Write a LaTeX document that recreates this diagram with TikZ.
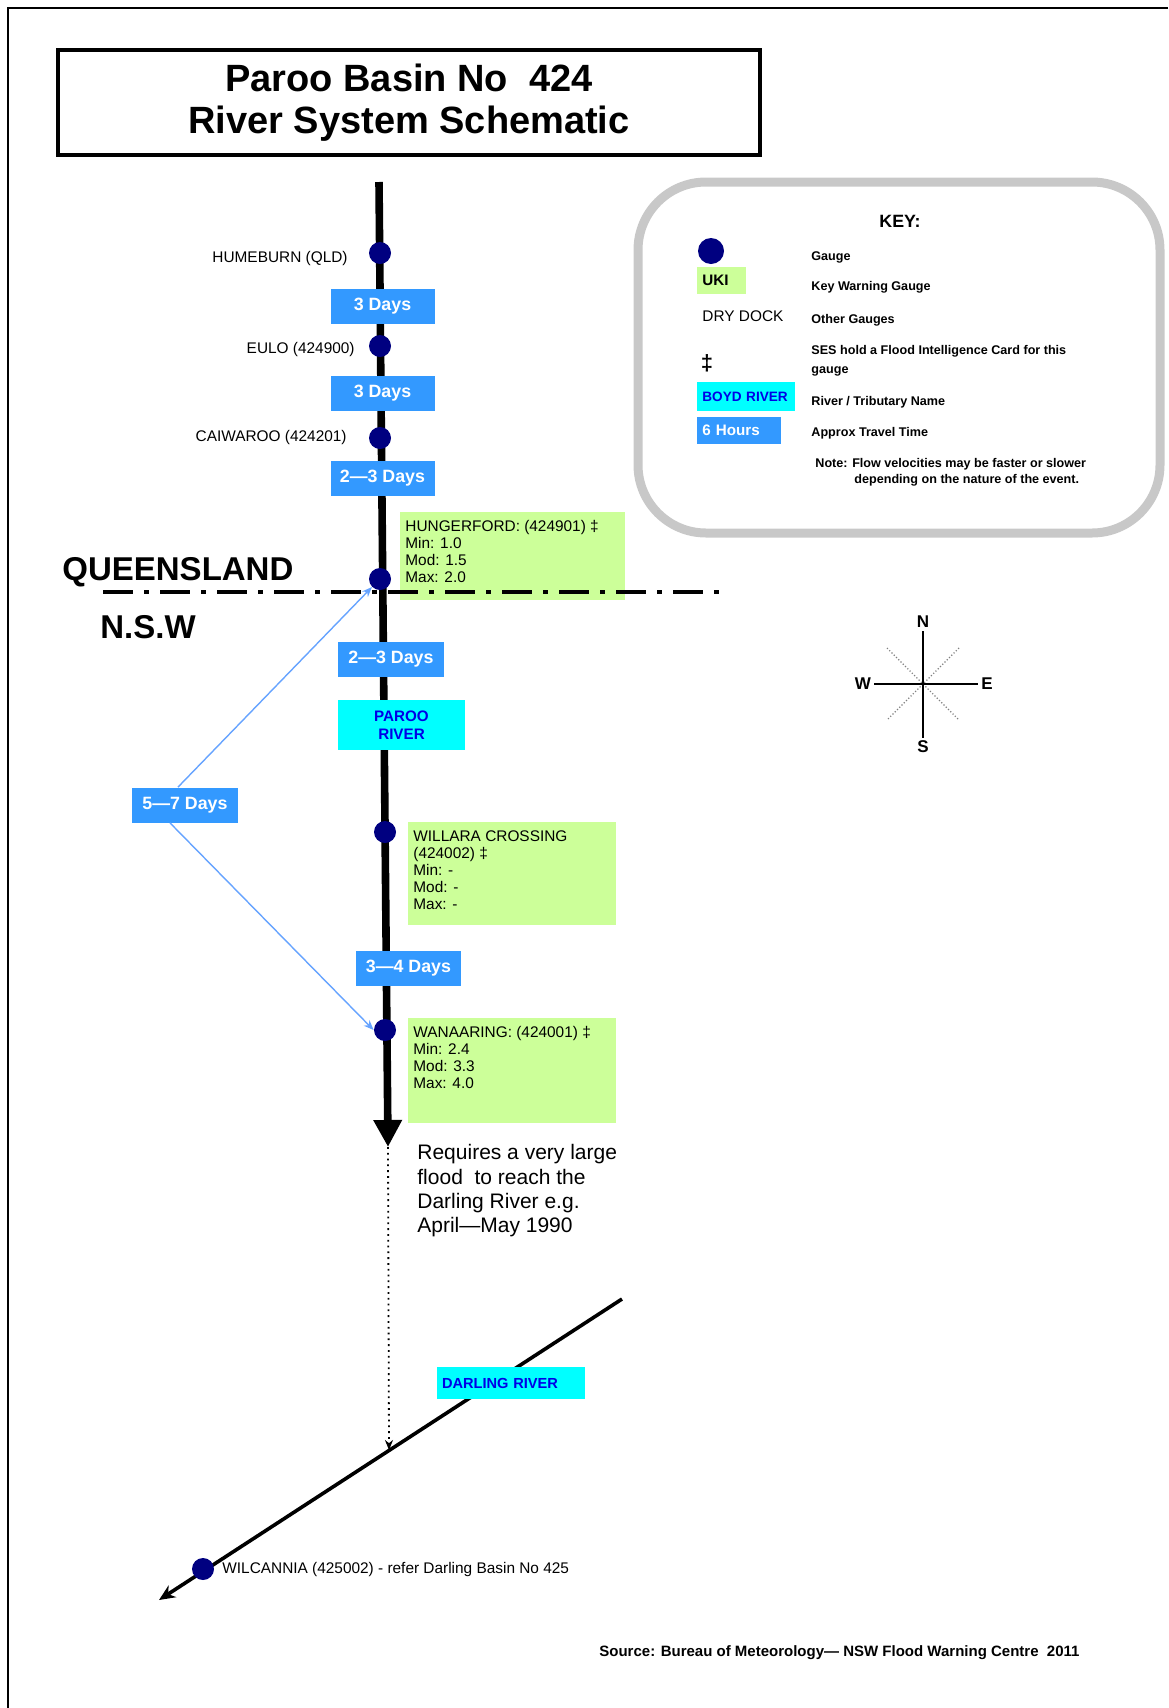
\documentclass[tikz,border=0pt]{standalone}
\usepackage{fontspec}
\setmainfont{Liberation Sans}
\usepackage{tikz}
\usetikzlibrary{arrows.meta,shapes,positioning}
\definecolor{gaugeblue}{RGB}{0,0,128}
\definecolor{travelblue}{RGB}{51,153,255}
\definecolor{rivercyan}{RGB}{0,255,255}
\definecolor{rivertext}{RGB}{0,0,230}
\definecolor{warngreen}{RGB}{204,255,153}
\definecolor{linkblue}{RGB}{102,163,255}
\definecolor{keygray}{RGB}{200,200,200}
\tikzstyle{every node}=[inner sep=0pt]

\begin{document}
\begin{tikzpicture}[
    x=0.5pt, y=-0.5pt,
    gauge/.style={
        circle,
        fill=gaugeblue,
        minimum size=11pt},
    site/.style={
        anchor=east,
        font=\fontsize{7.7}{8.5}\selectfont},
    traveltime/.style={
        fill=travelblue,
        text=white,
        font=\bfseries\fontsize{8.9}{10}\selectfont,
        minimum width=52pt,
        minimum height=17.5pt},
    rivername/.style={
        fill=rivercyan,
        text=rivertext,
        align=center,
        font=\bfseries\fontsize{7.6}{9.3}\selectfont},
    warnbox/.style={
        fill=warngreen,
        anchor=north west},
    warntext/.style={
        anchor=north west,
        inner xsep=2.5pt,
        inner ysep=4pt,
        align=left,
        font=\fontsize{7.7}{8.5}\selectfont},
    keytext/.style={
        anchor=west,
        align=left,
        font=\bfseries\fontsize{6.3}{9.5}\selectfont},
    state/.style={
        anchor=west,
        font=\bfseries\fontsize{16.5}{18}\selectfont},
    compassletter/.style={
        inner sep=1.5pt,
        font=\bfseries\fontsize{8.5}{9}\selectfont},
    link/.style={
        linkblue,
        line width=0.7pt,
        -{Stealth[length=5pt,width=4pt]}},
  ]
  \useasboundingbox (0,0) rectangle (1168,1708);
  % Frame and title
  \draw[line width=0.8pt] (1168,8) -- (8,8) -- (8,1708);
  \node[draw, line width=2pt, minimum width=351pt, minimum height=52.5pt,
        align=center, font=\bfseries\fontsize{19}{21}\selectfont]
        (title) at (409,102.5) {Paroo Basin No\ \ 424\\River System Schematic};

  % Key
  \node[draw=keygray, line width=4.5pt, rounded corners=34pt,
        minimum width=261pt, minimum height=175.5pt] (keybox) at (899,357.5) {};
  \node[font=\bfseries\fontsize{8.9}{10}\selectfont] (keytitle) at (900,221) {KEY:};
  \node[gauge, minimum size=13pt] (keygauge) at (711,251) {};
  \node[fill=warngreen, anchor=west, text width=19.5pt, inner xsep=2.5pt,
        minimum height=13.5pt, font=\bfseries\fontsize{7.6}{9}\selectfont]
        (keyuki) at (697,280.5) {UKI};
  \node[anchor=west, font=\fontsize{7.7}{9}\selectfont] (keydry) at (702,316) {DRY DOCK};
  \node[font=\bfseries\fontsize{11}{12}\selectfont] (keycard) at (707,363) {‡};
  \node[rivername, anchor=west, align=left, text width=44pt, inner xsep=2.5pt,
        minimum height=14.5pt, font=\bfseries\fontsize{6.8}{8}\selectfont]
        (keyriver) at (697,396.5) {BOYD RIVER};
  \node[traveltime, anchor=west, align=left, text width=37pt, inner xsep=2.5pt,
        minimum width=0pt, minimum height=13.5pt, font=\bfseries\fontsize{7.6}{9}\selectfont]
        (keytime) at (697,430.5) {6 Hours};
  \node[keytext] (keydesc1) at (811,257) {Gauge};
  \node[keytext] (keydesc2) at (811,287) {Key Warning Gauge};
  \node[keytext] (keydesc3) at (811,320) {Other Gauges};
  \node[keytext] (keydesc4) at (811,360.5) {SES hold a Flood Intelligence Card for this\\gauge};
  \node[keytext] (keydesc5) at (811,402) {River / Tributary Name};
  \node[keytext] (keydesc6) at (811,433) {Approx Travel Time};
  \node[keytext, font=\bfseries\fontsize{6.3}{8}\selectfont] (keynote) at (815,472)
        {Note: Flow velocities may be faster or slower\\\hspace*{19.5pt}depending on the nature of the event.};

  % Compass
  \coordinate (compass) at (923,684);
  \node[compassletter] (compassN) at (923,622) {N};
  \node[compassletter] (compassS) at (923,747) {S};
  \node[compassletter] (compassW) at (863,684) {W};
  \node[compassletter] (compassE) at (987,684) {E};
  \draw[gray, densely dotted, line width=0.6pt]
        ([shift={(-36,-36)}]compass) -- ([shift={(36,36)}]compass);
  \draw[gray, densely dotted, line width=0.6pt]
        ([shift={(36,-36)}]compass) -- ([shift={(-36,36)}]compass);
  \draw[line width=1pt] (compassN) -- (compassS);
  \draw[line width=1pt] (compassW) -- (compassE);

  % Paroo River and Darling River
  \coordinate (parootop) at (379,182);
  \coordinate (parooend) at (388,1147);
  \coordinate (darlingjoin) at (389,1450);
  \coordinate (darlingtop) at (622,1299);
  \coordinate (darlingend) at (159,1600);
  \draw[line width=3.8pt, -{Triangle[length=13.5pt,width=13.5pt]}] (parootop) -- (parooend);
  \draw[dotted, line width=0.9pt, -{Stealth[length=5pt,width=4pt]}] (parooend) -- (darlingjoin);
  \draw[line width=1.8pt, -{Stealth[length=8pt,width=7pt]}] (darlingtop) -- (darlingend);
  \node[rivername, align=left, text width=69pt, inner xsep=2.5pt, minimum height=16pt,
        font=\bfseries\fontsize{7.3}{9}\selectfont] (darling) at (511,1383) {DARLING RIVER};
  \node[anchor=north west, align=left, font=\fontsize{10.5}{12.2}\selectfont]
        (floodnote) at (417,1144) {Requires a very large\\flood\ \ to reach the\\Darling River e.g.\\April---May 1990};

  % Key warning gauges
  \node[warnbox, minimum width=112.5pt, minimum height=44pt] (hungerfordbox) at (400,512) {};
  \node[warntext] (hungerfordtext) at (hungerfordbox.north west)
        {HUNGERFORD: (424901) ‡\\Min: 1.0\\Mod: 1.5\\Max: 2.0};
  \node[warnbox, minimum width=104pt, minimum height=51.5pt] (willarabox) at (408,822) {};
  \node[warntext] (willaratext) at (willarabox.north west)
        {WILLARA CROSSING\\(424002) ‡\\Min: -\\Mod: -\\Max: -};
  \node[warnbox, minimum width=104pt, minimum height=52.5pt] (wanaaringbox) at (408,1018) {};
  \node[warntext] (wanaaringtext) at (wanaaringbox.north west)
        {WANAARING: (424001) ‡\\Min: 2.4\\Mod: 3.3\\Max: 4.0};

  % State border
  \coordinate (borderwest) at (103,592);
  \coordinate (bordereast) at (729,592);
  \draw[line width=1.8pt, dash pattern=on 15pt off 5.5pt on 2.5pt off 5.5pt] (borderwest) -- (bordereast);
  \node[state] (qld) at (62,572) {QUEENSLAND};
  \node[state] (nsw) at (100,627) {N.S.W};

  % Travel times
  \node[traveltime] (time1) at (382.5,306) {3 Days};
  \node[traveltime] (time2) at (382.5,393) {3 Days};
  \node[traveltime] (time3) at (382.5,478) {2---3 Days};
  \node[traveltime, minimum width=53pt] (time4) at (391,659) {2---3 Days};
  \node[rivername, minimum width=63.5pt, minimum height=25pt] (paroo) at (401.5,725) {PAROO\\RIVER};
  \node[traveltime, minimum width=53pt] (time57) at (185,805) {5---7 Days};
  \node[traveltime, minimum width=52.5pt] (time34) at (408.5,968) {3---4 Days};

  % Gauges
  \node[gauge] (humeburn) at (380,253) {};
  \node[gauge] (eulo) at (380,346) {};
  \node[gauge] (caiwaroo) at (380,438) {};
  \node[gauge] (hungerford) at (380,579) {};
  \node[gauge] (willara) at (385,832) {};
  \node[gauge] (wanaaring) at (385,1030) {};
  \node[gauge] (wilcannia) at (203,1569) {};
  \node[site] (humeburnlabel) at (348,259) {HUMEBURN (QLD)};
  \node[site] (eulolabel) at (355,350) {EULO (424900)};
  \node[site] (caiwaroolabel) at (347,438) {CAIWAROO (424201)};
  \node[site, anchor=west] (wilcannialabel) at (222,1569) {WILCANNIA (425002) - refer Darling Basin No 425};

  % Links
  \draw[link] ([xshift=-3.5pt]time57.north) -- (hungerford.south west);
  \draw[link] ([xshift=-7.5pt]time57.south) -- (wanaaring.west);

  % Source
  \node[anchor=west, font=\bfseries\fontsize{7.5}{9}\selectfont] (source) at (599,1653)
        {Source: Bureau of Meteorology--- NSW Flood Warning Centre\ \ 2011};
\end{tikzpicture}
\end{document}
